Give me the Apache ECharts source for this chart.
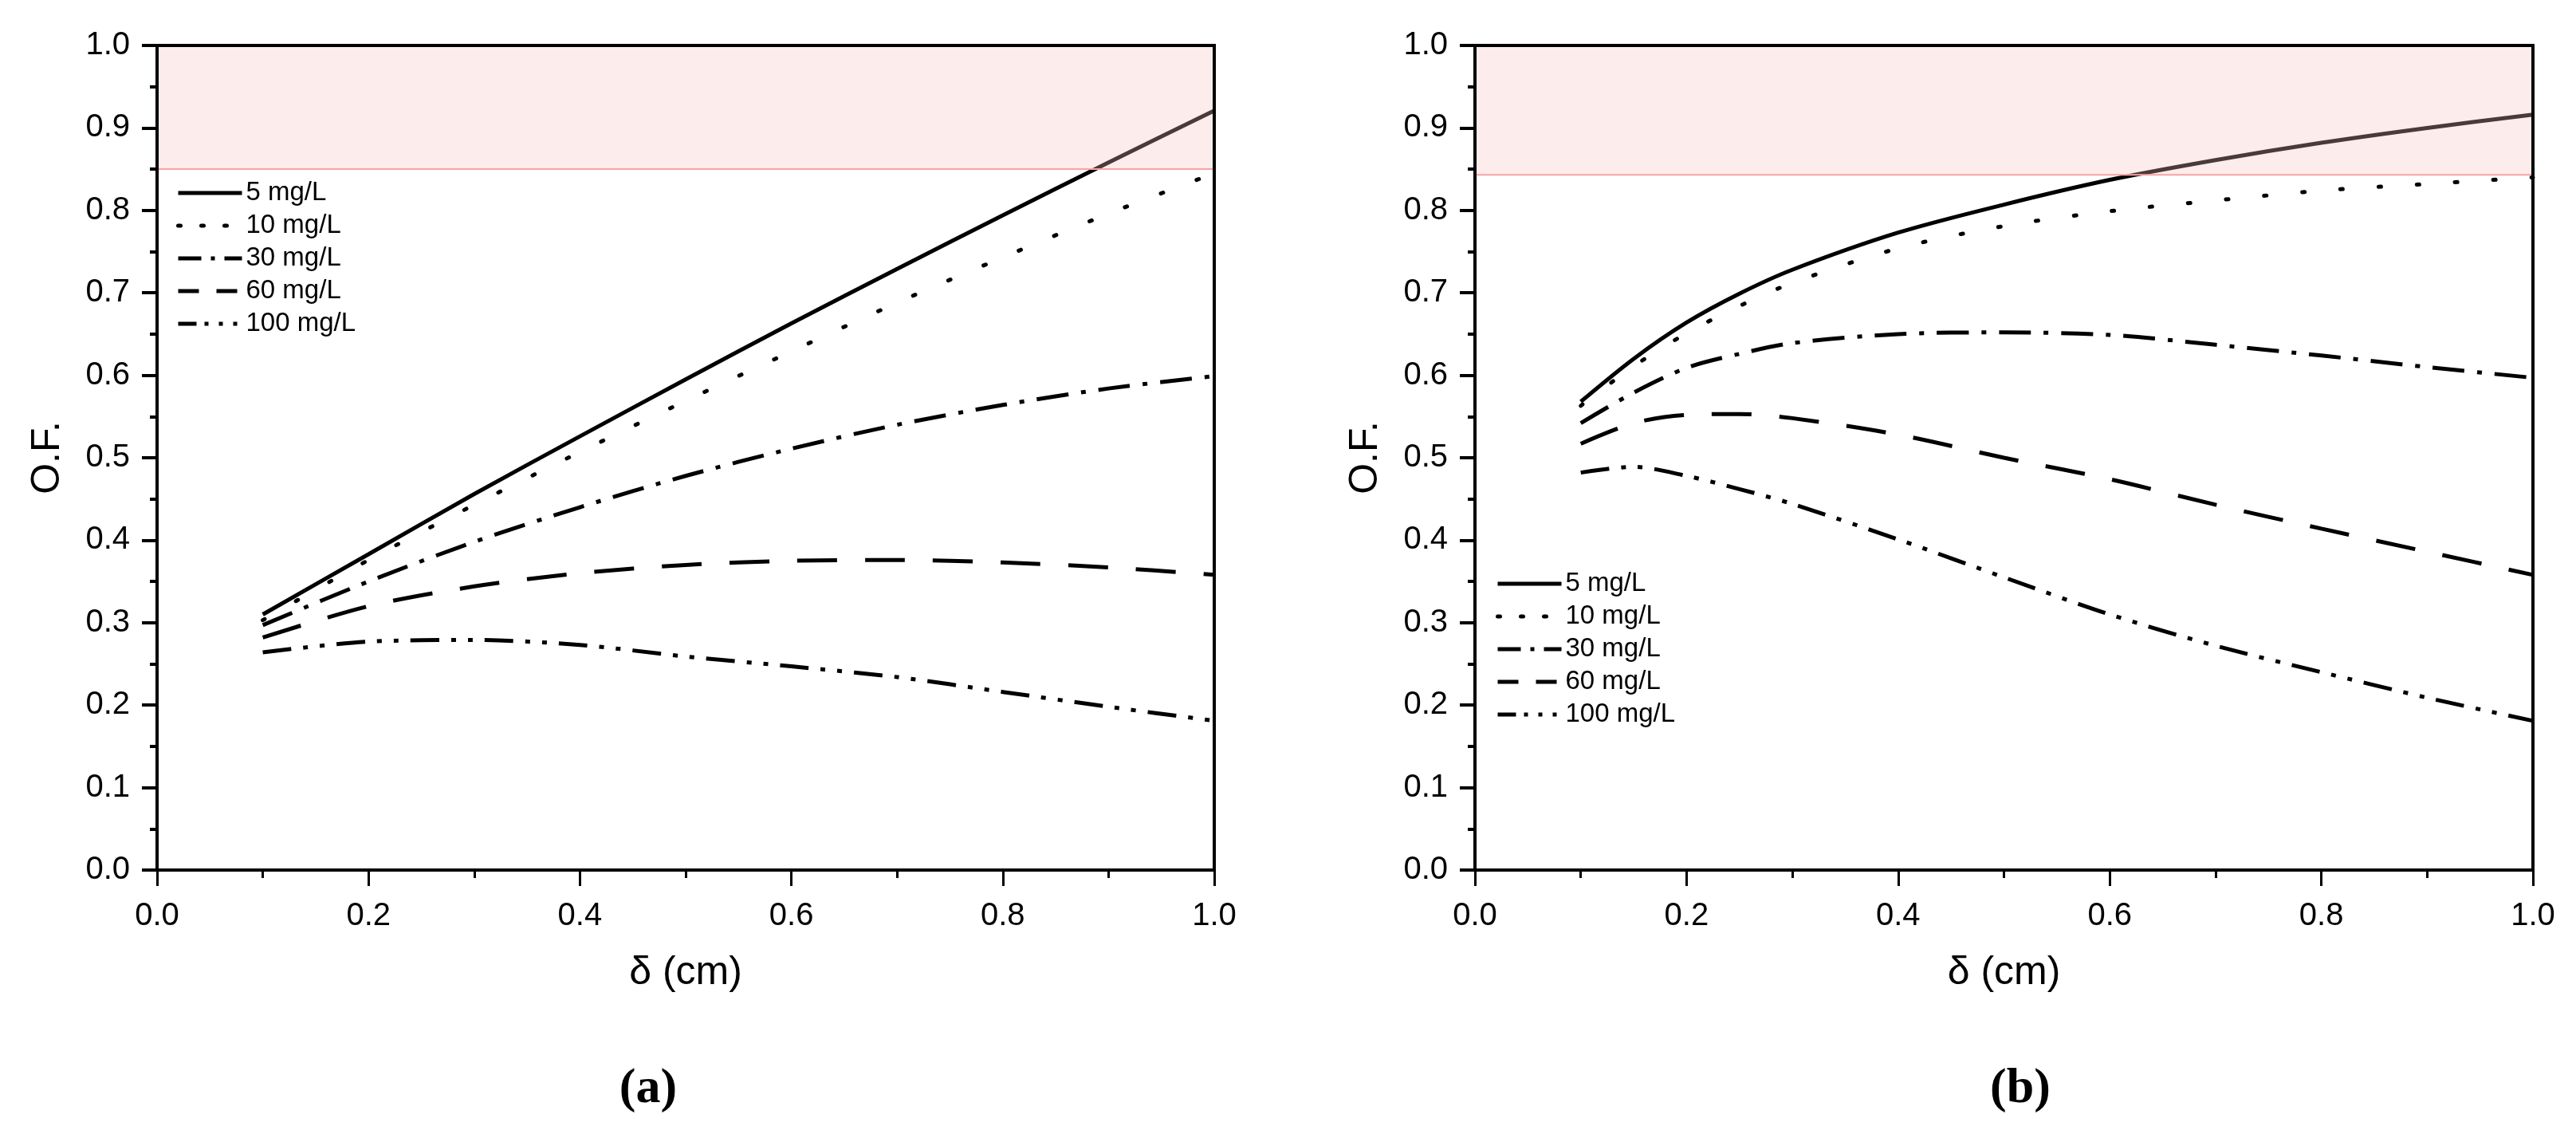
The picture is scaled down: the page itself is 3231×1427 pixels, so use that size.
<!DOCTYPE html>
<html>
<head>
<meta charset="utf-8">
<script src="https://cdn.jsdelivr.net/npm/echarts@6/dist/echarts.min.js"></script>
<style>
  html, body { margin: 0; padding: 0; background: #fff; }
  #chart { width: 3231px; height: 1427px; }
</style>
</head>
<body>
<div id="chart"></div>
<script>
// panel (a)
const xA = [0.1, 0.2, 0.3, 0.4, 0.5, 0.6, 0.7, 0.8, 0.9, 1.0];
const a5 = [0.310, 0.383, 0.456, 0.526, 0.595, 0.663, 0.729, 0.794, 0.858, 0.921];
const a10 = [0.303, 0.376, 0.443, 0.507, 0.569, 0.629, 0.688, 0.743, 0.796, 0.845];
const a30 = [0.297, 0.350, 0.398, 0.440, 0.478, 0.511, 0.540, 0.564, 0.584, 0.599];
const a60 = [0.282, 0.320, 0.344, 0.360, 0.370, 0.375, 0.376, 0.373, 0.367, 0.358];
const a100 = [0.264, 0.277, 0.279, 0.273, 0.259, 0.247, 0.234, 0.216, 0.198, 0.181];

// panel (b)
const xB = [0.1, 0.15, 0.2, 0.25, 0.3, 0.4, 0.5, 0.6, 0.7, 0.8, 0.9, 1.0];
const b5 = [0.568, 0.620, 0.664, 0.699, 0.728, 0.773, 0.807, 0.837, 0.861, 0.882, 0.900, 0.916];
const b10 = [0.563, 0.611, 0.651, 0.684, 0.712, 0.754, 0.781, 0.799, 0.812, 0.824, 0.832, 0.840];
const b30 = [0.542, 0.579, 0.609, 0.626, 0.639, 0.650, 0.652, 0.649, 0.637, 0.624, 0.610, 0.597];
const b60 = [0.517, 0.542, 0.552, 0.553, 0.548, 0.528, 0.500, 0.474, 0.443, 0.414, 0.386, 0.358];
const b100 = [0.482, 0.489, 0.478, 0.462, 0.444, 0.401, 0.355, 0.310, 0.272, 0.240, 0.209, 0.181];

// target band (x from, x to, O.F. low, O.F. high)
const bandA = [0, 1, 0.85, 1.0];
const bandB = [0, 1, 0.843, 1.0];

const names = ["5 mg/L", "10 mg/L", "30 mg/L", "60 mg/L", "100 mg/L"];
const xTicks = { min: 0, max: 1, interval: 0.2 };
const yTicks = { min: 0, max: 1, interval: 0.1 };

const FONT = "Liberation Sans";
const curveDash = ["solid", [3, 45], [40, 16, 6, 16], [50, 35], [36, 15, 6, 15, 6, 15]];
const curveCap = ["butt", "round", "butt", "butt", "butt"];
const legendDash = ["solid", [3, 26], [29, 12, 5, 12], [26, 22], [23, 10, 5, 13, 5, 13, 5, 10]];

function zip(xs, ys) {
  return xs.map((x, i) => [x, ys[i]]);
}

function xAxisOpt(idx) {
  return {
    type: "value", gridIndex: idx, ...xTicks, z: 5,
    name: "δ (cm)", nameLocation: "middle", nameGap: 104,
    nameTextStyle: { fontFamily: FONT, fontSize: 50, color: "#000" },
    axisLine: { lineStyle: { color: "#000", width: 4 } },
    axisTick: { length: 20, lineStyle: { color: "#000", width: 3 } },
    minorTick: { show: true, splitNumber: 2, length: 10, lineStyle: { color: "#000", width: 3 } },
    splitLine: { show: false },
    axisLabel: { margin: 38, fontFamily: FONT, fontSize: 40, color: "#000", formatter: v => v.toFixed(1) }
  };
}

function yAxisOpt(idx) {
  return {
    type: "value", gridIndex: idx, ...yTicks, z: 5,
    name: "O.F.", nameLocation: "middle", nameGap: 112,
    nameTextStyle: { fontFamily: FONT, fontSize: 50, color: "#000" },
    axisLine: { lineStyle: { color: "#000", width: 4 } },
    axisTick: { length: 19, lineStyle: { color: "#000", width: 4 } },
    minorTick: { show: true, splitNumber: 2, length: 9, lineStyle: { color: "#000", width: 4 } },
    splitLine: { show: false },
    axisLabel: { margin: 34, fontFamily: FONT, fontSize: 40, color: "#000", formatter: v => v.toFixed(1) }
  };
}

function bandSeries(idx, band) {
  return {
    type: "custom", xAxisIndex: idx, yAxisIndex: idx, z: 3, silent: true,
    encode: { x: [0, 1], y: [2, 3] },
    data: [band],
    renderItem: (params, api) => {
      const p0 = api.coord([api.value(0), api.value(3)]);
      const p1 = api.coord([api.value(1), api.value(2)]);
      return {
        type: "rect",
        shape: { x: p0[0], y: p0[1], width: p1[0] - p0[0], height: p1[1] - p0[1] },
        style: { fill: "rgba(245,192,192,0.3)", stroke: "#f7a3a3", lineWidth: 2 }
      };
    }
  };
}

function curves(idx, xs, sets) {
  return sets.map((ys, i) => ({
    name: names[i], type: "line", xAxisIndex: idx, yAxisIndex: idx, z: 2,
    data: zip(xs, ys), smooth: 0.3, symbol: "none",
    itemStyle: { color: "#000" },
    lineStyle: { color: "#000", width: 5, type: curveDash[i], cap: curveCap[i] }
  }));
}

function legendOpt(left, top) {
  return {
    left: left, top: top, orient: "vertical", padding: 0,
    itemWidth: 80, itemHeight: 14, itemGap: 7,
    textStyle: { fontFamily: FONT, fontSize: 33, lineHeight: 34, color: "#000" },
    itemStyle: { opacity: 0 },
    data: names.map((n, i) => ({
      name: n,
      itemStyle: { opacity: 0 },
      lineStyle: { type: legendDash[i], width: 5, cap: curveCap[i], color: "#000" }
    }))
  };
}

function panelTitle(letter, cx) {
  return {
    text: "{p|(}{b|" + letter + "}{p|)}",
    left: cx, top: 1330, textAlign: "center",
    textStyle: {
      rich: {
        p: { fontFamily: "Liberation Serif", fontSize: 62, color: "#000" },
        b: { fontFamily: "Liberation Serif", fontSize: 62, fontWeight: "bold", color: "#000" }
      }
    }
  };
}

const chart = echarts.init(document.getElementById("chart"), null, { renderer: "canvas" });
chart.setOption({
  animation: false,
  backgroundColor: "#fff",
  title: [panelTitle("a", 808), panelTitle("b", 2529)],
  legend: [legendOpt(221, 225), legendOpt(1876, 715)],
  grid: [
    { left: 197, top: 57, width: 1326, height: 1034, show: true, borderColor: "#000", borderWidth: 4, z: 5 },
    { left: 1850, top: 57, width: 1327, height: 1034, show: true, borderColor: "#000", borderWidth: 4, z: 5 }
  ],
  xAxis: [xAxisOpt(0), xAxisOpt(1)],
  yAxis: [yAxisOpt(0), yAxisOpt(1)],
  series: [
    ...curves(0, xA, [a5, a10, a30, a60, a100]),
    ...curves(1, xB, [b5, b10, b30, b60, b100]),
    bandSeries(0, bandA),
    bandSeries(1, bandB)
  ]
});
</script>
</body>
</html>
